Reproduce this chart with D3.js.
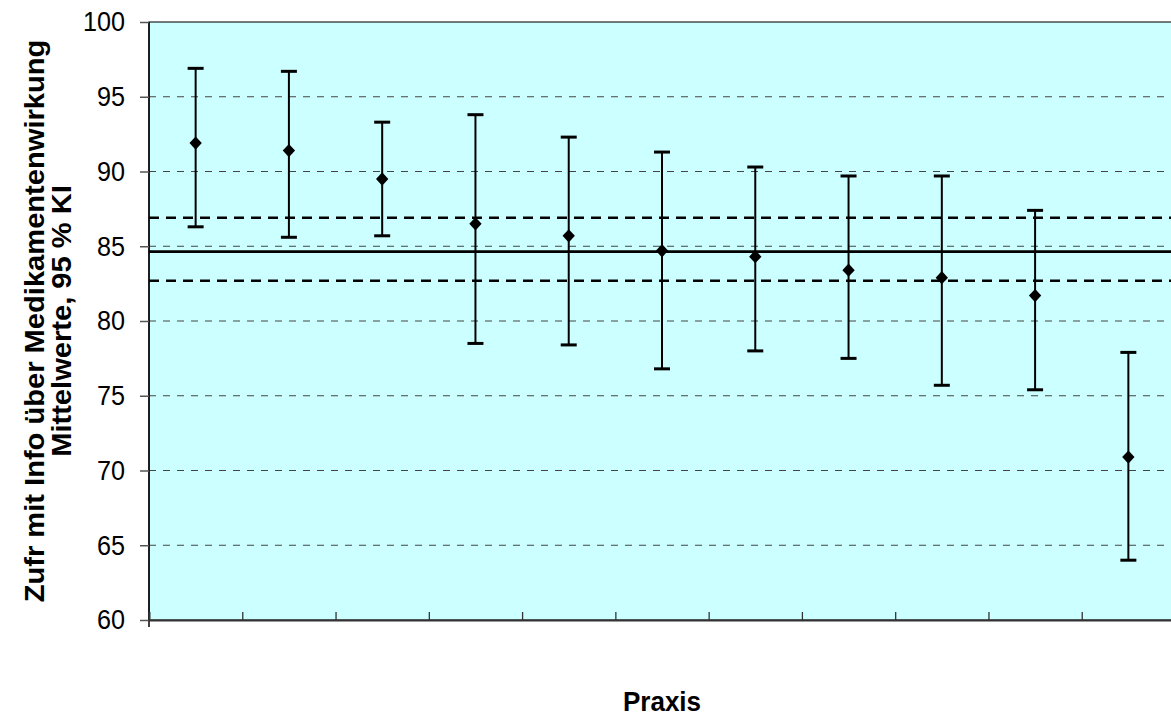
<!DOCTYPE html>
<html>
<head>
<meta charset="utf-8">
<script src="https://cdn.jsdelivr.net/npm/d3@7"></script>
<style>
  html, body { margin: 0; padding: 0; background: #fff; }
  svg { display: block; font-family: "Liberation Sans", Arial, sans-serif; }
</style>
</head>
<body>
<div id="chart"></div>
<script>
// Praxen (ohne Beschriftung auf der x-Achse)
const praxen = ["1", "2", "3", "4", "5", "6", "7", "8", "9", "10", "11"];
// Mittelwerte und 95 % Konfidenzintervall je Praxis
const mittelwerte = [91.9, 91.4, 89.5, 86.5, 85.7, 84.7, 84.3, 83.4, 82.9, 81.7, 70.9];
const untereGrenze = [86.3, 85.6, 85.7, 78.5, 78.4, 76.8, 78.0, 77.5, 75.7, 75.4, 64.0];
const obereGrenze = [96.9, 96.7, 93.3, 93.8, 92.3, 91.3, 90.3, 89.7, 89.7, 87.4, 77.9];
// Gesamtmittelwert mit Konfidenzband
const gesamtMittel = [84.64];
const gesamtKI = [82.7, 86.9];
// Achsenbeschriftung
const yTicks = [60, 65, 70, 75, 80, 85, 90, 95, 100];

const width = 1171, height = 719;
const plot = {left: 149, right: 1175, top: 22, bottom: 620};
// Schrift im Original etwas schmaler
const narrow = 0.9;

const svg = d3.select("#chart").append("svg")
  .attr("width", width)
  .attr("height", height);

const x = d3.scaleBand()
  .domain(praxen)
  .range([plot.left, plot.right])
  .padding(0);

// Skala für die Trennstriche zwischen den Praxen
const xEdges = d3.scaleLinear()
  .domain([0, praxen.length])
  .range([plot.left, plot.right]);

const y = d3.scaleLinear()
  .domain([60, 100])
  .range([plot.bottom, plot.top]);

// Hintergrund der Zeichenfläche
svg.append("rect")
  .attr("x", plot.left)
  .attr("y", plot.top)
  .attr("width", plot.right - plot.left)
  .attr("height", plot.bottom - plot.top)
  .attr("fill", "#ccffff")
  .attr("stroke", "#222")
  .attr("stroke-width", 1.2);

// Hilfslinien
svg.append("g")
  .selectAll("line")
  .data(yTicks.filter(d => d > 60 && d < 100))
  .join("line")
  .attr("x1", plot.left)
  .attr("x2", plot.right)
  .attr("y1", d => y(d))
  .attr("y2", d => y(d))
  .attr("stroke", "#444")
  .attr("stroke-width", 1)
  .attr("stroke-dasharray", "7,7");

// Konfidenzband des Gesamtmittels (gestrichelt)
svg.append("g")
  .selectAll("line")
  .data(gesamtKI)
  .join("line")
  .attr("x1", plot.left)
  .attr("x2", plot.right)
  .attr("y1", d => y(d))
  .attr("y2", d => y(d))
  .attr("stroke", "#000")
  .attr("stroke-width", 2.5)
  .attr("stroke-dasharray", "10,7");

// Gesamtmittelwert (durchgezogen)
svg.append("g")
  .selectAll("line")
  .data(gesamtMittel)
  .join("line")
  .attr("x1", plot.left)
  .attr("x2", plot.right)
  .attr("y1", d => y(d))
  .attr("y2", d => y(d))
  .attr("stroke", "#000")
  .attr("stroke-width", 2.8);

// y-Achse
const yAxis = svg.append("g")
  .attr("transform", `translate(${plot.left},0)`)
  .call(d3.axisLeft(y).tickValues(yTicks).tickSize(9));
yAxis.select(".domain").attr("stroke", "#000").attr("stroke-width", 1.5)
  .attr("d", `M0,${plot.top}V${plot.bottom + 7}`);
yAxis.selectAll(".tick line").attr("stroke", "#555").attr("stroke-width", 1.5);
yAxis.selectAll(".tick text")
  .attr("fill", "#000")
  .attr("x", -24 / narrow)
  .attr("transform", `scale(${narrow},1)`)
  .style("font-size", "28px");

// x-Achse mit Trennstrichen
const xAxis = svg.append("g")
  .attr("transform", `translate(0,${plot.bottom})`)
  .call(d3.axisBottom(xEdges).tickValues(d3.range(1, praxen.length)).tickSize(-8).tickFormat(""));
xAxis.select(".domain").attr("stroke", "#333").attr("stroke-width", 2);
xAxis.selectAll(".tick line").attr("stroke", "#333").attr("stroke-width", 1.3);

// Fehlerbalken
const bars = praxen.map((p, i) => ({
  praxis: p,
  mittel: mittelwerte[i],
  unten: untereGrenze[i],
  oben: obereGrenze[i]
}));

const cx = d => x(d.praxis) + x.bandwidth() / 2;
const capHalf = 8;

const g = svg.append("g");
g.selectAll(".whisker")
  .data(bars)
  .join("line")
  .attr("class", "whisker")
  .attr("x1", cx).attr("x2", cx)
  .attr("y1", d => y(d.oben))
  .attr("y2", d => y(d.unten))
  .attr("stroke", "#000")
  .attr("stroke-width", 2);

["oben", "unten"].forEach(k => {
  g.selectAll(".cap-" + k)
    .data(bars)
    .join("line")
    .attr("class", "cap-" + k)
    .attr("x1", d => cx(d) - capHalf)
    .attr("x2", d => cx(d) + capHalf)
    .attr("y1", d => y(d[k]))
    .attr("y2", d => y(d[k]))
    .attr("stroke", "#000")
    .attr("stroke-width", 3);
});

// Rautensymbole für die Mittelwerte
g.selectAll(".punkt")
  .data(bars)
  .join("path")
  .attr("class", "punkt")
  .attr("d", d3.symbol(d3.symbolSquare, 76))
  .attr("transform", d => `translate(${cx(d)},${y(d.mittel)}) scale(1,1.08) rotate(45)`)
  .attr("fill", "#000");

// Achsentitel
const yTitle = svg.append("text")
  .attr("transform", `translate(0,${(plot.top + plot.bottom) / 2}) rotate(-90) scale(1.04,1)`)
  .attr("text-anchor", "middle")
  .style("font-size", "28px")
  .style("font-weight", "bold");
yTitle.append("tspan").attr("x", 0).attr("y", 44).text("Zufr mit Info über Medikamentenwirkung");
yTitle.append("tspan").attr("x", 0).attr("y", 71).text("Mittelwerte, 95 % KI");

svg.append("text")
  .attr("transform", `translate(662,711) scale(${narrow + 0.03},1)`)
  .attr("text-anchor", "middle")
  .style("font-size", "28px")
  .style("font-weight", "bold")
  .text("Praxis");
</script>
</body>
</html>
